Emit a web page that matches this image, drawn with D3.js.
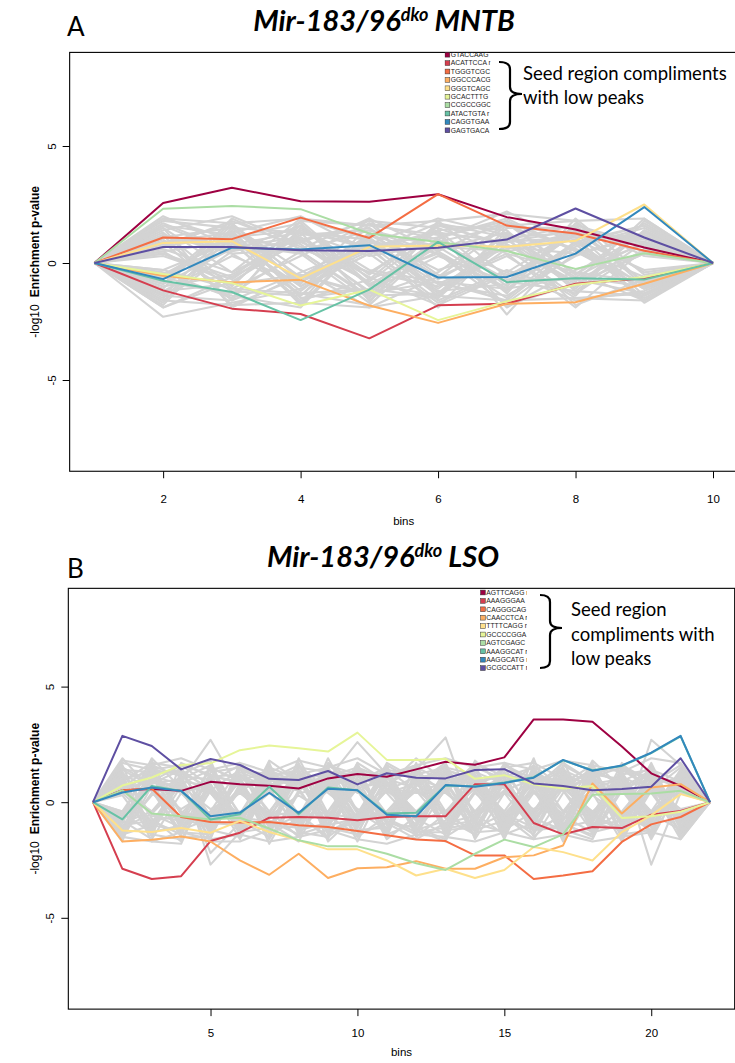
<!DOCTYPE html>
<html>
<head>
<meta charset="utf-8">
<script src="https://cdn.jsdelivr.net/npm/d3@7"></script>
<style>
  body { margin: 0; background: #fff; }
  svg { display: block; }
</style>
</head>
<body>
<div id="chart"></div>
<script>
// Spectral palette, one colour per seed sequence (legend order)
const palette = ["#9E0142", "#D53E4F", "#F46D43", "#FDAE61", "#FEE08B",
                 "#E6F598", "#ABDDA4", "#66C2A5", "#3288BD", "#5E4FA2"];

// ---------- Panel A: MNTB ----------
const binsA = [1, 2, 3, 4, 5, 6, 7, 8, 9, 10];
const seedsA = ["GTACCAAG", "ACATTCCA r", "TGGGTCGC", "GGCCCACG", "GGGTCAGC",
                "GCACTTTG", "CCGCCGGC", "ATACTGTA r", "CAGGTGAA", "GAGTGACA"];
const seriesA = [
  [0, 2.56, 3.22, 2.64, 2.62, 2.94, 1.96, 1.43, 0.66, 0],
  [0, -1.17, -1.95, -2.18, -3.22, -1.81, -1.74, -0.89, -0.65, 0],
  [0, 1.09, 1.02, 1.94, 1.07, 2.94, 1.60, 1.26, 0.52, 0],
  [0, -0.55, -0.83, -0.72, -1.82, -2.56, -1.74, -1.68, -0.89, 0],
  [0, 0.86, 0.93, -0.66, 0.69, 0.75, 0.69, 0.95, 2.50, 0],
  [0, -0.47, -0.86, -1.82, -1.14, -2.44, -1.64, -0.93, -0.60, 0],
  [0, 2.32, 2.44, 2.30, 1.26, 0.90, 0.51, -0.25, 0.42, 0],
  [0, -0.76, -1.24, -2.44, -1.14, 0.90, -0.82, -0.65, -0.71, 0],
  [0, -0.69, 0.66, 0.58, 0.76, -0.62, -0.60, 0.40, 2.39, 0],
  [0, 0.68, 0.68, 0.55, 0.51, 0.65, 1.00, 2.33, 1.09, 0]
];
// background seeds (grey), one string per seed, values per bin
const grayA = [
  "0 1.8 1.5 -0.6 1.2 0.4 -1.1 0.9 1.6 0",
  "0 -0.5 1.1 1.7 -0.9 -1.4 0.6 1.3 -0.4 0",
  "0 0.9 -1.6 -0.4 0.8 1.9 1.2 -0.7 0.5 0",
  "0 -1.9 -0.8 1.0 1.5 -0.5 -1.7 0.4 1.1 0",
  "0 1.2 0.4 -1.3 -1.8 0.9 1.6 1.8 -0.9 0",
  "0 -1.1 1.9 0.6 -0.4 -1.0 0.3 -1.5 -1.3 0",
  "0 0.4 -0.9 1.4 0.7 1.3 -1.9 -0.3 0.8 0",
  "0 1.6 1.2 -1.8 1.3 -0.7 0.9 1.1 -1.6 0",
  "0 -0.8 -1.3 0.5 -1.5 1.6 1.4 -1.1 1.4 0",
  "0 2.0 0.7 1.1 -0.6 -1.8 -0.5 0.6 -0.6 0",
  "0 -1.4 1.5 -0.9 1.9 0.5 -1.2 1.7 0.3 0",
  "0 0.6 -0.4 1.9 1.0 -1.3 0.8 -0.8 1.9 0",
  "0 -2.3 -1.7 -1.1 0.4 1.1 1.8 0.5 -1.1 0",
  "0 1.4 2.0 0.8 -1.2 0.3 -0.8 1.4 0.9 0",
  "0 -0.3 0.9 -1.6 -0.7 1.7 1.1 -1.8 -0.7 0",
  "0 1.0 -1.1 0.3 1.7 -0.9 -1.4 0.3 1.3 0",
  "0 -1.6 0.5 1.6 -1.0 1.0 2.2 0.8 -1.5 0",
  "0 0.8 1.7 -0.7 0.6 -1.6 -0.3 -1.3 0.6 0",
  "0 -1.0 -0.5 1.2 1.4 0.7 0.5 1.0 -0.3 0",
  "0 1.5 -1.9 -0.5 -1.4 -0.4 1.7 -0.5 1.7 0",
  "0 -0.7 1.3 2.0 0.5 1.4 -1.0 1.6 -1.0 0",
  "0 0.5 -1.2 -1.4 1.1 -1.1 1.0 -0.9 0.4 0",
  "0 -1.3 0.8 0.4 -1.7 1.8 -0.6 1.2 1.0 0",
  "0 1.9 1.0 -1.0 0.9 0.6 1.3 -1.2 -1.4 0",
  "0 -0.4 -1.5 1.5 -0.3 -0.8 -1.6 0.7 1.5 0",
  "0 1.1 0.6 0.9 1.8 1.5 0.4 -0.4 -0.8 0",
  "0 -1.7 1.4 -1.5 -1.1 -1.5 1.5 1.5 0.7 0",
  "0 0.3 -0.7 1.3 0.3 0.8 -0.4 -1.6 -1.2 0",
  "0 -0.9 1.6 -0.3 -1.9 -0.6 0.7 0.4 1.2 0",
  "0 1.3 -1.0 1.8 1.6 1.2 -1.3 1.9 -0.5 0",
  "0 -1.2 0.3 -0.8 0.7 -1.9 1.2 -0.6 0.9 0",
  "0 0.7 1.8 0.7 -0.8 1.4 -2.2 1.0 -1.7 0",
  "0 -0.6 -1.4 -1.9 1.2 -0.3 0.6 -1.4 1.8 0",
  "0 1.7 0.5 1.0 -1.3 1.1 1.9 0.5 -0.9 0",
  "0 -1.5 1.1 -1.2 1.0 -1.2 -0.9 1.3 0.5 0",
  "0 0.4 -0.6 1.6 -0.5 1.6 0.8 -1.0 1.4 0",
  "0 -1.8 1.2 0.5 1.4 0.4 -1.5 0.9 -1.0 0",
  "0 1.2 -1.8 -0.6 0.8 -1.4 1.0 1.6 0.8 0",
  "0 -0.5 0.8 1.3 -1.6 0.9 -0.7 -0.7 -1.3 0",
  "0 0.9 1.3 -1.4 1.3 -0.6 1.6 1.2 1.1 0",
  "0 1.9 1.7 1.9 1.6 1.8 2.1 1.8 1.9 0",
  "0 -1.6 -1.8 -1.7 -1.9 -1.4 -1.6 -1.5 -1.6 0",
  "0 0.9 1.1 1.4 0.6 1.3 0.9 1.4 0.7 0",
  "0 -1.2 -0.9 -0.5 -1.3 -0.8 -1.1 -0.6 -1.0 0",
  "0 1.5 -0.4 1.1 -0.9 0.5 1.8 -0.5 1.3 0",
  "0 -0.7 1.7 -1.0 0.4 -1.7 -0.4 1.4 -0.8 0",
  "0 0.5 0.9 -1.7 1.7 1.0 -0.8 -1.2 0.9 0",
  "0 -1.9 -0.6 0.9 -0.4 1.4 1.6 0.6 -1.1 0",
  "0 1.1 1.5 1.3 1.0 -0.9 0.4 -1.9 0.6 0",
  "0 -0.3 -1.1 -1.3 -1.1 0.7 -1.1 0.8 1.6 0",
  "0 1.6 0.4 0.6 1.9 -1.5 1.1 1.3 -1.4 0",
  "0 -1.4 -1.6 1.8 -0.7 0.4 -1.8 -0.9 0.4 0",
  "0 0.7 1.2 -0.8 0.5 1.7 0.7 1.1 1.2 0",
  "0 -0.9 0.6 0.5 -1.4 -1.3 1.3 -0.4 -1.6 0"
];

// ---------- Panel B: LSO ----------
const binsB = [1, 2, 3, 4, 5, 6, 7, 8, 9, 10, 11, 12, 13, 14, 15, 16, 17, 18, 19, 20, 21, 22];
const seedsB = ["AGTTCAGG r", "AAAGGGAA", "CAGGGCAG", "CAACCTCA r", "TTTTCAGG r",
                "GCCCCGGA", "AGTCGAGC", "AAAGGCAT r", "AAGGCATG r", "GCGCCATT r"];
const seriesB = [
  [0, 0.52, 0.57, 0.49, 0.88, 0.78, 0.71, 0.59, 1.03, 1.22, 1.10, 1.42, 1.75, 1.62, 1.94, 3.58, 3.58, 3.48, 2.41, 1.25, 0.70, 0],
  [0, -2.88, -3.32, -3.20, -1.68, -1.32, -0.67, -0.64, -0.67, -0.78, -0.64, -0.61, -0.61, 0.78, 0.78, -0.90, -1.39, -1.07, -1.12, -0.54, -0.38, 0],
  [0, 0.52, 0.59, -0.64, -0.86, -0.88, -0.86, -1.00, -1.07, -1.25, -1.43, -1.61, -1.68, -2.30, -2.30, -3.32, -3.17, -2.99, -1.72, -0.96, -0.64, 0],
  [0, -1.70, -1.62, -1.48, -1.70, -2.52, -3.14, -2.23, -3.28, -2.86, -2.81, -2.55, -2.88, -2.88, -2.38, -2.30, -1.87, 0.81, -0.49, 0.64, 0.78, 0],
  [0, -1.22, -1.29, -1.12, -1.32, -0.81, -1.29, -1.65, -2.04, -2.04, -2.52, -3.17, -2.88, -3.28, -2.93, -1.94, -2.16, -2.52, -1.29, -0.57, 0.35, 0],
  [0, 0.72, 1.07, 1.61, 1.68, 2.25, 2.45, 2.33, 2.19, 3.01, 1.83, 1.83, 1.88, 1.01, 1.17, 0.77, 0.59, 0.70, -0.68, -0.61, -0.41, 0],
  [0, 0.52, -0.49, -0.61, -0.75, -0.67, -1.14, -1.65, -1.91, -1.91, -2.23, -2.64, -2.93, -2.23, -1.62, -1.94, -1.39, 0.32, 0.35, 0.38, 0.49, 0],
  [0, -0.74, 0.70, 0.49, -0.75, -0.52, 0.67, -0.52, 0.64, 0.52, -0.49, -0.46, 0.72, 0.69, 0.85, 1.08, 1.81, 1.38, 1.57, 2.12, 2.85, 0],
  [0, 0.42, 0.64, 0.49, -0.61, -0.45, 0.41, -0.46, 0.58, 0.52, -0.54, -0.61, 0.74, 0.67, 0.83, 1.06, 1.83, 1.36, 1.59, 2.14, 2.87, 0],
  [0, 2.87, 2.43, 1.42, 1.87, 1.61, 1.01, 0.96, 1.35, 0.77, 1.25, 1.06, 1.03, 1.39, 1.43, 0.81, 0.70, 0.52, 0.57, 0.67, 1.90, 0]
];
const grayB = [
  "0 0.6 1.2 -0.8 1.5 0.9 -1.1 1.3 0.4 -0.6 1.7 1.0 -1.3 0.5 1.1 -0.9 1.4 0.8 -0.5 1.2 0.7 0",
  "0 -0.9 -0.4 1.1 -1.2 -1.5 0.7 -0.6 1.6 1.2 -0.8 -1.4 0.6 1.5 -0.7 0.9 -1.2 -1.6 1.0 -0.4 1.4 0",
  "0 1.5 0.8 1.4 0.5 -0.7 1.8 0.9 -1.0 1.4 0.4 0.8 1.7 -0.9 -1.3 1.6 0.6 1.1 1.5 0.9 -0.6 0",
  "0 -1.3 1.6 -0.5 -0.9 1.2 -0.4 -1.5 0.8 -1.1 1.1 1.6 -0.7 -1.4 0.9 -0.5 1.8 -0.9 -1.2 1.6 -1.1 0",
  "0 0.8 -1.1 0.9 2.7 0.5 1.1 0.6 1.2 0.7 -1.6 -0.6 1.0 0.8 1.4 1.1 -0.8 1.5 0.7 -1.0 0.5 0",
  "0 1.9 0.5 -1.4 0.7 -0.8 -1.5 1.7 -0.7 1.7 0.9 -1.1 -1.6 1.2 -0.5 -1.4 0.9 0.4 -1.7 0.8 1.6 0",
  "0 -0.6 1.9 0.6 -1.6 1.6 0.9 -0.9 1.9 -0.4 -1.2 1.3 0.4 -0.6 1.7 0.7 -1.5 1.3 0.9 1.5 -0.8 0",
  "0 1.1 -1.5 1.7 1.1 -1.2 0.6 1.1 -1.4 0.9 1.5 -0.8 1.4 1.0 -1.1 1.3 0.5 -1.3 1.3 -0.7 0.9 0",
  "0 -1.6 0.7 -1.0 -0.5 1.0 -1.8 0.4 0.6 -1.5 -0.6 0.5 -1.0 1.8 0.6 -1.0 1.2 0.7 -0.9 1.0 -1.4 0",
  "0 0.4 1.4 1.2 -2.7 -1.3 1.4 -1.2 -0.9 1.1 0.7 1.9 0.9 -1.2 -0.8 0.5 -0.6 1.8 0.6 -1.3 1.2 0",
  "0 1.3 -0.7 -1.7 0.9 0.7 -0.7 1.5 1.3 -0.8 1.3 -1.5 -0.5 0.6 1.5 1.7 1.0 -0.5 1.4 0.6 -1.6 0",
  "0 -1.1 1.0 0.5 -1.3 1.4 1.2 -0.5 -1.6 1.6 -1.0 0.7 1.6 -1.6 0.4 -1.2 -1.0 1.0 -1.4 1.4 0.4 0",
  "0 0.7 -0.9 1.0 1.6 -0.6 0.4 0.8 1.0 2.6 1.2 -1.2 -0.8 0.9 -1.5 0.8 1.5 -0.7 0.8 -0.5 1.0 0",
  "0 -0.4 1.5 -1.2 -0.7 0.6 -1.3 1.9 -0.5 -0.7 0.5 1.1 1.2 -0.4 1.0 -0.7 0.7 1.4 -0.6 1.7 -0.9 0",
  "0 1.6 -1.3 0.7 0.4 -1.0 1.6 -0.8 1.4 0.5 -1.4 -0.9 0.5 1.4 -0.9 1.9 -1.4 0.5 1.1 -1.5 0.6 0",
  "0 -1.4 0.4 -0.7 1.1 0.9 -0.9 -1.7 0.7 -1.3 0.8 1.5 -1.5 -0.7 1.2 0.6 1.1 -1.0 -0.8 0.5 1.5 0",
  "0 0.9 1.7 1.5 -1.1 1.3 0.8 0.5 -1.1 1.0 -0.5 -0.4 0.8 1.1 -0.6 -1.6 0.4 1.2 1.6 0.9 -0.7 0",
  "0 -0.8 -1.6 0.4 0.8 -1.4 1.0 1.2 1.5 -0.5 1.6 0.9 -1.1 -1.0 1.6 1.0 -0.9 -1.5 0.5 -1.1 1.1 0",
  "0 1.2 0.6 -1.5 -1.5 0.8 -0.6 -0.4 -0.8 1.3 -0.7 -1.3 1.3 0.7 0.7 -0.5 1.6 0.9 -1.0 1.3 -1.2 0",
  "0 -1.5 1.1 0.8 1.4 -0.5 1.5 1.0 0.9 -1.0 1.0 0.6 -0.6 1.6 -1.0 1.4 -0.4 -0.6 1.2 -0.6 0.8 0",
  "0 0.5 -0.5 -1.1 -0.4 1.5 -1.0 -1.1 1.7 0.8 -1.5 1.4 2.8 -0.8 1.0 -0.8 0.8 1.6 -1.5 1.0 -0.5 0",
  "0 1.4 1.3 1.3 0.6 -1.6 0.7 1.4 -0.6 -1.4 1.2 -0.7 -1.4 0.4 -0.7 1.1 -1.7 0.4 0.9 -0.9 1.3 0",
  "0 -1.0 -0.8 -0.6 -1.0 1.1 -1.4 -0.7 1.1 1.5 0.4 -1.0 0.7 -1.5 1.3 -1.3 1.3 -1.2 -0.4 1.1 -1.0 0",
  "0 0.6 0.9 1.6 1.2 -0.9 1.3 0.6 -1.3 -0.6 1.4 1.2 1.5 1.2 -1.3 0.4 -0.5 0.8 1.0 -1.6 0.7 0",
  "0 -1.7 1.8 -0.9 -0.6 0.4 -0.5 1.6 0.5 0.6 -0.9 -1.6 -0.9 -0.6 0.5 -0.6 1.0 -0.8 1.7 0.4 -1.3 0",
  "0 1.0 -1.2 1.2 1.8 -1.1 1.7 -1.3 -1.5 1.1 0.6 0.4 0.4 1.7 1.1 1.5 -1.1 1.7 -1.1 2.7 1.6 0",
  "0 -0.5 0.6 -1.3 -1.4 1.7 0.5 0.7 1.0 -1.2 -1.1 1.7 -1.2 -1.1 -0.5 -1.1 0.6 -0.4 0.7 -1.4 1.0 0",
  "0 0.8 -1.0 0.9 0.7 -1.3 -1.1 -0.6 -0.4 1.4 1.1 -0.5 1.1 0.8 1.2 0.9 -1.3 1.1 -1.3 0.7 -0.8 0",
  "0 1.7 1.4 -0.4 -0.8 0.6 1.2 1.3 -1.2 -0.9 -0.4 1.0 0.6 -1.3 -1.2 -0.4 1.5 -1.4 1.4 -2.7 0.4 0",
  "0 -1.2 0.3 1.1 1.0 -0.7 -0.8 -1.0 1.2 0.4 1.3 -1.2 -1.7 1.3 0.8 1.2 -0.7 0.6 -0.7 1.2 -1.5 0",
  "0 0.3 -1.4 -1.6 0.5 1.4 0.9 1.1 -0.7 1.7 -1.3 0.8 1.3 -0.5 -1.4 -0.9 0.9 -1.1 1.1 -0.8 1.1 0",
  "0 -0.7 1.0 0.6 -1.7 -1.7 -1.2 0.9 0.8 -1.7 0.9 -0.8 -0.4 1.0 0.6 1.6 -1.6 1.3 -1.6 0.5 -0.4 0",
  "0 1.3 -0.6 -0.8 1.5 0.9 1.4 -1.4 1.6 0.7 -0.8 1.5 0.9 -0.9 1.5 -0.6 1.2 -0.6 0.6 1.4 0.9 0",
  "0 -1.2 1.2 1.4 -0.8 -0.4 -0.4 1.2 -1.0 -0.7 1.6 -1.3 -1.3 1.1 -1.6 1.3 0.5 1.5 -0.5 -1.2 1.2 0",
  "0 0.9 -1.7 -1.8 1.1 1.2 0.6 -1.2 1.3 1.2 -0.5 0.7 1.5 -1.1 0.9 -1.2 -1.1 -0.8 1.5 0.6 -0.6 0",
  "0 -0.8 0.8 1.0 -2.2 -0.9 1.1 1.4 -1.7 -0.5 0.7 1.6 -0.6 0.6 -0.9 0.7 1.4 -1.3 -1.0 1.5 -1.1 0",
  "0 0.5 -0.4 0.7 -0.3 0.4 -0.6 0.3 -0.5 0.6 0.9 -0.4 0.5 -0.7 0.4 -0.3 0.6 -0.5 0.8 -0.4 0.5 0",
  "0 -0.4 0.6 -0.3 0.5 -0.7 0.4 -0.6 0.9 -0.3 -0.6 0.5 -0.4 0.6 -0.5 0.8 -0.4 0.3 -0.6 0.7 -0.3 0",
  "0 1.8 1.6 1.9 1.4 1.7 1.3 1.8 1.5 1.9 1.2 1.6 1.9 1.5 1.7 1.4 1.8 1.6 1.3 1.9 1.7 0",
  "0 -1.5 -1.7 -1.3 -1.6 -1.4 -1.7 -1.5 -1.2 -1.6 -1.8 -1.4 -1.5 -1.7 -1.3 -1.6 -1.4 -1.7 -1.5 -1.3 -1.6 0",
  "0 1.0 1.3 -0.5 0.9 1.6 -0.6 1.0 1.2 -1.1 0.6 -0.7 1.4 0.9 -0.4 1.3 -0.8 1.0 0.5 1.3 -0.5 0",
  "0 -1.1 -0.5 0.8 -1.4 0.6 1.3 -0.9 -0.4 1.0 -1.2 1.2 -0.6 -1.2 0.8 -0.9 1.1 -0.6 -1.1 0.9 1.0 0",
  "0 0.6 1.6 1.1 0.4 -1.2 1.0 1.6 -0.8 1.3 0.8 -1.4 1.1 0.5 -1.3 0.6 1.7 0.9 -0.7 -1.0 0.8 0",
  "0 -0.5 -1.3 -1.0 1.2 0.8 -1.6 0.5 1.3 -0.7 -0.4 0.9 -1.2 1.5 1.0 -1.5 -0.4 1.2 1.0 -0.5 -1.2 0",
  "0 1.4 0.7 -0.7 -1.1 1.1 0.5 -1.2 0.9 0.8 1.4 0.5 0.8 -0.9 1.6 0.8 -1.0 -1.4 1.4 1.1 0.6 0",
  "0 -0.9 1.4 1.6 0.7 -0.6 -1.2 1.2 -1.1 -1.4 -0.9 -1.1 1.3 0.7 -0.6 1.1 0.9 -0.5 -1.3 0.6 -0.8 0",
  "0 0.4 -0.8 -1.4 1.3 1.5 0.9 -0.6 0.5 1.5 1.0 1.6 -0.4 -1.4 0.9 -0.7 -1.2 1.4 0.8 -1.4 1.3 0",
  "0 -1.3 0.9 0.4 -0.9 -1.0 1.4 0.8 1.4 -0.9 0.5 -0.5 0.9 1.2 -1.2 1.4 0.5 -0.9 1.2 1.4 -0.9 0",
  "0 1.2 -1.4 1.3 -0.6 0.9 -0.8 -1.4 -1.0 0.6 -1.3 1.1 -1.0 -0.8 1.3 -0.4 1.3 0.6 -0.8 -0.7 1.4 0",
  "0 -0.6 1.1 -0.9 1.6 -1.3 0.7 1.1 0.6 1.2 1.2 -0.8 0.6 1.0 -0.8 -1.2 -0.6 -1.3 0.6 1.0 -0.6 0",
  "0 0.8 0.5 0.7 -1.2 0.5 -0.5 -0.5 -1.5 -0.6 -0.7 0.7 1.4 -0.5 0.5 1.0 0.7 1.3 -1.4 -1.2 0.9 0",
  "0 -1.4 -1.0 -1.2 0.5 -0.8 1.2 -1.0 1.0 -1.0 1.5 -1.3 -1.1 0.8 -1.0 0.5 -1.4 -1.1 1.1 0.5 -1.3 0"
];

const width = 735, height = 1063;
const axisFont = "'Liberation Sans Narrow', 'Liberation Sans', Arial, sans-serif";
const calibriLike = "Lato, 'Open Sans', sans-serif";

const svg = d3.select("#chart").append("svg")
  .attr("width", width)
  .attr("height", height)
  .attr("viewBox", [0, 0, width, height]);

const parseRow = s => s.split(" ").map(Number);

function drawPanel(cfg) {
  const g = svg.append("g");
  const n = cfg.bins.length;
  const lo = cfg.bins[0], hi = cfg.bins[n - 1];

  // scales: x over the bins, y from the -5..5 tick positions
  const x = d3.scaleLinear().domain([lo, hi]).range(cfg.xr);
  const y = d3.scaleLinear().domain([-5, 5]).range(cfg.yr);

  // R style 4% axis extension
  const pad = (hi - lo) * 0.04;
  const bx0 = x(lo - pad), bx1 = x(hi + pad);
  const by0 = y(cfg.ylim[1]), by1 = y(cfg.ylim[0]);

  const line = d3.line()
    .x((d, i) => x(cfg.bins[i]))
    .y(d => y(d));

  // grey background seeds
  g.append("g")
    .attr("fill", "none")
    .attr("stroke", "#d3d3d3")
    .attr("stroke-width", 2.1)
    .attr("stroke-linejoin", "round")
    .selectAll("path")
    .data(cfg.gray.map(parseRow))
    .join("path")
    .attr("d", line);

  // highlighted seeds
  g.append("g")
    .attr("fill", "none")
    .attr("stroke-width", 2)
    .attr("stroke-linejoin", "round")
    .selectAll("path")
    .data(cfg.series)
    .join("path")
    .attr("stroke", (d, i) => palette[i])
    .attr("d", line);

  // plot box
  g.append("rect")
    .attr("x", bx0).attr("y", by0)
    .attr("width", bx1 - bx0).attr("height", by1 - by0)
    .attr("fill", "none").attr("stroke", "#000").attr("stroke-width", 1.1);

  // x axis
  g.append("g")
    .attr("transform", `translate(0,${by1})`)
    .call(d3.axisBottom(x).tickValues(cfg.xticks).tickSize(7).tickPadding(cfg.xpad).tickFormat(d => String(d)))
    .call(a => a.select(".domain").remove())
    .attr("font-family", axisFont)
    .attr("font-size", 11.5)
    .call(a => a.selectAll("text").attr("fill", "#000"));

  // y axis, labels rotated like R's default
  g.append("g")
    .attr("transform", `translate(${bx0},0)`)
    .call(d3.axisLeft(y).tickValues([-5, 0, 5]).tickSize(7).tickFormat(d => String(d)))
    .call(a => a.select(".domain").remove())
    .attr("font-family", axisFont)
    .attr("font-size", 11.5)
    .call(a => a.selectAll("text")
      .attr("fill", "#000")
      .attr("x", 0).attr("dy", null)
      .attr("y", -14)
      .attr("text-anchor", "middle")
      .attr("transform", "rotate(-90)"));

  // axis titles
  g.append("text")
    .attr("x", (bx0 + bx1) / 2)
    .attr("y", by1 + cfg.binsDy)
    .attr("text-anchor", "middle")
    .attr("font-family", axisFont)
    .attr("font-size", 11.5)
    .text("bins");

  const yl = g.append("text")
    .attr("transform", `translate(39,${(by0 + by1) / 2}) rotate(-90)`)
    .attr("text-anchor", "middle")
    .attr("font-family", axisFont)
    .attr("font-size", 12);
  yl.append("tspan").text("-log10");
  yl.append("tspan").attr("dx", 7).attr("font-weight", "bold").text("Enrichment p-value");

  // panel letter and title
  g.append("text")
    .attr("x", 67).attr("y", cfg.letterY)
    .attr("font-family", calibriLike)
    .attr("font-size", 26)
    .text(cfg.letter);

  const t = g.append("text")
    .attr("x", cfg.titleX).attr("y", cfg.titleY)
    .attr("text-anchor", "middle")
    .attr("font-family", calibriLike)
    .attr("font-size", 29)
    .attr("font-weight", "bold")
    .attr("font-style", "italic");
  t.append("tspan").text("Mir-183/96");
  t.append("tspan").attr("font-size", 18).attr("dy", -10).text("dko");
  t.append("tspan").attr("dy", 10).attr("dx", 6).text(cfg.region);

  // legend
  const clipId = "clip" + cfg.letter;
  svg.append("clipPath").attr("id", clipId)
    .append("rect")
    .attr("x", cfg.legX).attr("y", cfg.legY - 6)
    .attr("width", cfg.legW).attr("height", 95);
  const leg = g.append("g").attr("clip-path", `url(#${clipId})`);
  const rows = leg.selectAll("g")
    .data(cfg.names)
    .join("g")
    .attr("transform", (d, i) => `translate(${cfg.legX},${cfg.legY + i * 8.4})`);
  rows.append("rect")
    .attr("x", 0.5).attr("y", -2.4)
    .attr("width", 4.8).attr("height", 4.8)
    .attr("fill", (d, i) => palette[i])
    .attr("stroke", "#333").attr("stroke-width", 0.5);
  rows.append("text")
    .attr("x", 6.3).attr("dy", "0.35em")
    .attr("font-family", "'Liberation Sans', Arial, sans-serif")
    .attr("font-size", 6.8)
    .attr("fill", "#222")
    .text(d => d);

  // curly brace and note
  const b = cfg.brace;
  const r = 7;
  const p = d3.path();
  p.moveTo(b.x0, b.top);
  p.quadraticCurveTo(b.xm, b.top, b.xm, b.top + r);
  p.lineTo(b.xm, b.tip - r);
  p.quadraticCurveTo(b.xm, b.tip, b.x1, b.tip);
  p.quadraticCurveTo(b.xm, b.tip, b.xm, b.tip + r);
  p.lineTo(b.xm, b.bot - r);
  p.quadraticCurveTo(b.xm, b.bot, b.x0, b.bot);
  g.append("path")
    .attr("d", p.toString())
    .attr("fill", "none")
    .attr("stroke", "#000")
    .attr("stroke-width", 2.2);

  g.append("text")
    .attr("font-family", calibriLike)
    .attr("font-size", 18.5)
    .selectAll("tspan")
    .data(cfg.note)
    .join("tspan")
    .attr("x", cfg.noteX)
    .attr("y", (d, i) => cfg.noteY + i * cfg.noteDy)
    .text(d => d);
}

drawPanel({
  letter: "A", region: "MNTB",
  bins: binsA, series: seriesA, gray: grayA, names: seedsA,
  xr: [94.4, 713], yr: [380, 146], ylim: [-8.9, 9.0],
  xticks: [2, 4, 6, 8, 10], xpad: 17, binsDy: 54,
  letterY: 36, titleX: 384, titleY: 31,
  legX: 444.5, legY: 54.7, legW: 46,
  brace: { x0: 499, xm: 510, x1: 522, top: 62, tip: 94, bot: 129 },
  note: ["Seed region compliments", "with low peaks"],
  noteX: 523, noteY: 80, noteDy: 24
});

drawPanel({
  letter: "B", region: "LSO",
  bins: binsB, series: seriesB, gray: grayB, names: seedsB,
  xr: [93, 710], yr: [917.8, 686.6], ylim: [-8.95, 9.25],
  xticks: [5, 10, 15, 20], xpad: 13, binsDy: 47,
  letterY: 578, titleX: 383, titleY: 567,
  legX: 480, legY: 592.5, legW: 47,
  brace: { x0: 540, xm: 550, x1: 562, top: 595, tip: 628, bot: 668 },
  note: ["Seed region", "compliments with", "low peaks"],
  noteX: 571, noteY: 616, noteDy: 24.5
});
</script>
</body>
</html>
